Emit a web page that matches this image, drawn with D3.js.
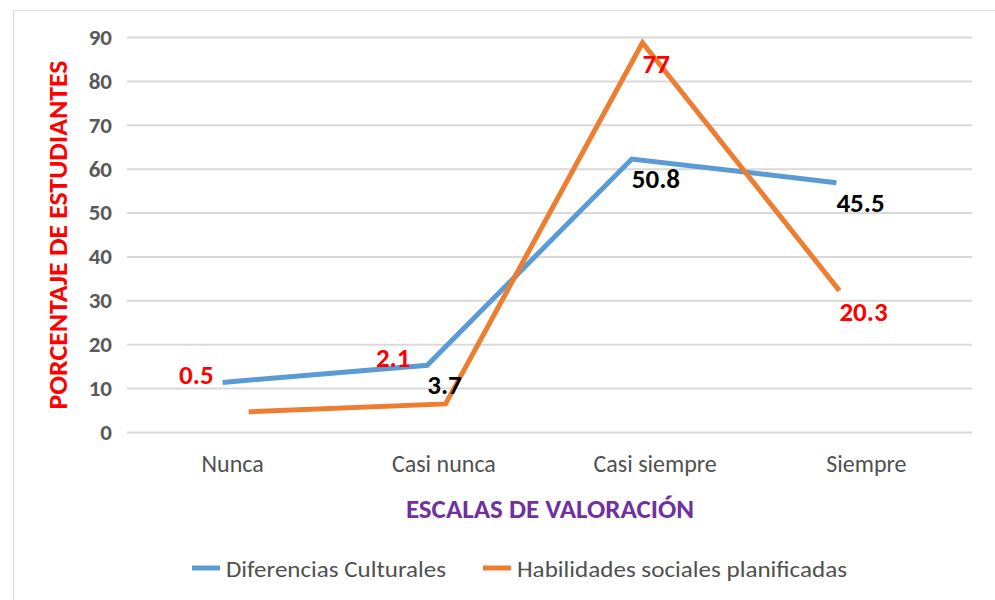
<!DOCTYPE html>
<html>
<head>
<meta charset="utf-8">
<script src="https://cdn.jsdelivr.net/npm/d3@7"></script>
<style>
    body { margin: 0; background: #fff; }
    text { font-family: Calibri, Carlito, Lato, sans-serif; }
</style>
</head>
<body>
<svg class="svgLine"></svg>
<script>
// Categories on the x axis.
var categories = ["Nunca", "Casi nunca", "Casi siempre", "Siempre"];

// Series names (legend).
var seriesNames = ["Diferencias Culturales", "Habilidades sociales planificadas"];

// Plotted values.
var culturales = [11.3, 15.2, 62.2, 56.8];
var habilidades = [4.6, 6.4, 88.7, 32.2];

// Data labels as they are written on the chart.
var labelsCulturales = [null, "3.7", "50.8", "45.5"];
var labelsHabilidades = ["0.5", "2.1", "77", "20.3"];

// Tick values for the y axis.
var yTicks = [0, 10, 20, 30, 40, 50, 60, 70, 80, 90];

// Size of the page and of the plot area.
var width = 995,
    height = 600;
var margin = {
    top: 37,
    right: 23,
    bottom: 168,
    left: 127
};
var plotW = width - margin.left - margin.right,
    plotH = height - margin.top - margin.bottom;

var colors = ["#5B9BD5", "#ED7D31"];

var svg = d3.select(".svgLine")
    .attr("width", width)
    .attr("height", height);

// Light frame round the chart.
svg.append("rect")
    .attr("x", 13.5)
    .attr("y", 10.5)
    .attr("width", width)
    .attr("height", height)
    .attr("fill", "none")
    .attr("stroke", "#d9d9d9");

var g = svg.append("g")
    .attr("transform", "translate(" + margin.left + "," + margin.top + ")");

// Scales.
var x = d3.scaleBand()
    .domain(categories)
    .range([0, plotW]);

var y = d3.scaleLinear()
    .domain([0, 90])
    .range([plotH, 0]);

// The lines in the picture do not sit right on the category centres,
// so each series gets its own x scale with a little offset.
function seriesX(dx0, dx1) {
    return d3.scaleLinear()
        .domain([0, categories.length - 1])
        .range([x(categories[0]) + x.bandwidth() / 2 + dx0,
            x(categories[categories.length - 1]) + x.bandwidth() / 2 + dx1]);
}
var xs = [seriesX(-10, -30), seriesX(16, -27)];

// Gridlines and y tick labels.
var yAxis = g.append("g")
    .call(d3.axisLeft(y)
        .tickValues(yTicks)
        .tickSize(-plotW)
        .tickPadding(15));
yAxis.select(".domain").remove();
yAxis.selectAll("line")
    .attr("stroke", "#d9d9d9")
    .attr("stroke-width", 2);
yAxis.selectAll("text")
    .attr("fill", "#595959")
    .style("font-size", "23px")
    .style("font-weight", "bold");

// Category labels.
var xAxis = g.append("g")
    .attr("transform", "translate(0," + plotH + ")")
    .call(d3.axisBottom(x).tickSize(0).tickPadding(0));
xAxis.select(".domain").remove();
xAxis.selectAll("text")
    .attr("y", 40)
    .attr("dy", 0)
    .attr("fill", "#505050")
    .style("font-size", "24px");

// The two lines.
var series = [culturales, habilidades];
series.forEach(function (values, s) {
    var line = d3.line()
        .x(function (d, i) { return xs[s](i); })
        .y(function (d) { return y(d); });
    g.append("path")
        .datum(values)
        .attr("fill", "none")
        .attr("stroke", colors[s])
        .attr("stroke-width", 5)
        .attr("stroke-linejoin", "miter")
        .attr("d", line);
});

// Data labels: black for Diferencias Culturales, red for Habilidades.
g.selectAll(".lblC")
    .data(labelsCulturales)
    .enter()
    .filter(function (d) { return d !== null; })
    .append("text")
    .attr("class", "lblC")
    .attr("x", function (d) { return xs[0](labelsCulturales.indexOf(d)); })
    .attr("y", function (d) { return y(culturales[labelsCulturales.indexOf(d)]) + 29; })
    .attr("fill", "#000")
    .style("font-size", "27px")
    .style("font-weight", "bold")
    .text(function (d) { return d; });

g.selectAll(".lblH")
    .data(labelsHabilidades)
    .enter()
    .append("text")
    .attr("class", "lblH")
    .each(function (d, i) {
        var px = xs[1](i),
            py = y(habilidades[i]);
        var t = d3.select(this);
        // Low points would put the label under the axis, so it goes up and left.
        if (py + 30 > plotH) {
            t.attr("x", px - 35).attr("y", y(culturales[i]) + 2).attr("text-anchor", "end");
        } else {
            t.attr("x", px).attr("y", py + 30);
        }
    })
    .attr("fill", "#ff0000")
    .style("font-size", "27px")
    .style("font-weight", "bold")
    .text(function (d) { return d; });

// Axis titles.
svg.append("text")
    .attr("transform", "translate(67,235) rotate(-90)")
    .attr("text-anchor", "middle")
    .attr("fill", "#ff0000")
    .style("font-size", "27px")
    .style("font-weight", "bold")
    .attr("textLength", 349)
    .attr("lengthAdjust", "spacingAndGlyphs")
    .text("PORCENTAJE DE ESTUDIANTES");

svg.append("text")
    .attr("x", 550)
    .attr("y", 518)
    .attr("text-anchor", "middle")
    .attr("fill", "#7030A0")
    .style("font-size", "27px")
    .style("font-weight", "bold")
    .text("ESCALAS DE VALORACIÓN");

// Legend.
var legendX = [192, 483];
var legendW = [220, 330];
var legend = svg.selectAll(".legend")
    .data(seriesNames)
    .enter()
    .append("g")
    .attr("class", "legend")
    .attr("transform", function (d, i) { return "translate(" + legendX[i] + ",568)"; });
legend.append("line")
    .attr("x1", 0)
    .attr("x2", 28)
    .attr("stroke", function (d, i) { return colors[i]; })
    .attr("stroke-width", 5);
legend.append("text")
    .attr("x", 34)
    .attr("y", 9)
    .attr("fill", "#505050")
    .style("font-size", "23px")
    .attr("textLength", function (d, i) { return legendW[i]; })
    .attr("lengthAdjust", "spacingAndGlyphs")
    .text(function (d) { return d; });
</script>
</body>
</html>
